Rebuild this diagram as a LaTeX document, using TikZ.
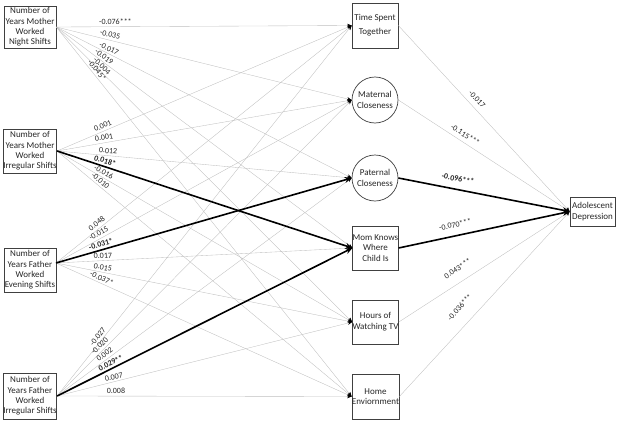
\documentclass[tikz,border=0pt]{standalone}
\usepackage{fontspec}
\setmainfont{Carlito}
\usetikzlibrary{arrows.meta}
\begin{document}
\begin{tikzpicture}[x=1pt,y=-1pt,
  box/.style={draw=black!75, line width=0.7pt, align=center, inner sep=0pt, text=black!85, font=\fontsize{9}{10.3}\selectfont},
  circ/.style={circle, draw=black!75, line width=0.7pt, align=center, inner sep=0pt, minimum size=46pt, text=black!85, font=\fontsize{9}{11.7}\selectfont},
  weak/.style={draw=black!25, line width=0.35pt, -{Stealth[black,length=4.5pt,width=3.5pt]}},
  strong/.style={draw=black, line width=1.6pt, -{Stealth[length=7pt,width=6pt]}},
  lab/.style={font=\fontsize{8}{9}\selectfont, sloped, inner sep=1pt, text=black!85},
  blab/.style={lab, font=\fontsize{8}{9}\selectfont\bfseries},
]
\useasboundingbox (0,0) rectangle (618,423);
% left nodes
\node[box, minimum width=52pt, minimum height=42pt] (a1) at (30,27) {Number of\\Years Mother\\Worked\\Night Shifts};
\node[box, minimum width=52pt, minimum height=44pt] (a2) at (30,151) {Number of\\Years Mother\\Worked\\Irregular Shifts};
\node[box, minimum width=52pt, minimum height=44pt] (a3) at (30,270) {Number of\\Years Father\\Worked\\Evening Shifts};
\node[box, minimum width=52pt, minimum height=46pt] (a4) at (30,396) {Number of\\Years Father\\Worked\\Irregular Shifts};
\coordinate (a3o) at (56,263);
% middle nodes
\node[box, minimum width=46pt, minimum height=45pt, font=\fontsize{9}{14}\selectfont] (m1) at (375,25.5) {Time Spent\\Together};
\node[circ] (m2) at (375,100) {Maternal\\Closeness};
\node[circ] (m3) at (375,178) {Paternal\\Closeness};
\node[box, minimum width=45pt, minimum height=44pt] (m4) at (375.5,248) {Mom Knows\\Where\\Child Is};
\node[box, minimum width=45pt, minimum height=44pt, font=\fontsize{9}{10.7}\selectfont] (m5) at (375.5,322) {Hours of\\Watching TV};
\node[box, minimum width=45pt, minimum height=45pt, font=\fontsize{9}{10.7}\selectfont] (m6) at (375.5,396.5) {Home\\Enviornment};
% right node
\node[box, minimum width=45pt, minimum height=29pt, font=\fontsize{9}{11}\selectfont] (dep) at (592.5,211.5) {Adolescent\\Depression};

% mother night shifts
\draw[weak] (a1.east) -- node[lab,pos=0.20,above=1pt]{-0.076***} (m1.west);
\draw[weak] (a1.east) -- node[lab,pos=0.178,above=1.5pt]{-0.035} (m2.west);
\draw[weak] (a1.east) -- node[lab,pos=0.171,above=1pt]{-0.017} (m3.west);
\draw[weak] (a1.east) -- node[lab,pos=0.152,above=1pt]{-0.019} (m4.west);
\draw[weak] (a1.east) -- node[lab,pos=0.143,above=1pt]{-0.004} (m5.west);
\draw[weak] (a1.east) -- node[lab,pos=0.125,above=1pt]{-0.045*} (m6.west);
% mother irregular shifts
\draw[weak] (a2.east) -- node[lab,pos=0.162,above=1.5pt]{0.001} (m1.west);
\draw[weak] (a2.east) -- node[lab,pos=0.162,above=1.5pt]{0.001} (m2.west);
\draw[weak] (a2.east) -- node[lab,pos=0.172,above=1pt]{0.012} (m3.west);
\draw[weak] (a2.east) -- node[lab,pos=0.150,above=1pt]{-0.016} (m5.west);
\draw[weak] (a2.east) -- node[lab,pos=0.137,above=1pt]{-0.010} (m6.west);
% father evening shifts
\draw[weak] (a3o) -- node[lab,pos=0.149,above=1.5pt]{0.048} (m1.west);
\draw[weak] (a3o) -- node[lab,pos=0.153,above=1.5pt]{-0.015} (m2.west);
\draw[weak] (a3o) -- node[lab,pos=0.159,above=1pt]{0.017} (m4.west);
\draw[weak] (a3o) -- node[lab,pos=0.155,above=1pt]{0.015} (m5.west);
\draw[weak] (a3o) -- node[lab,pos=0.148,above=1pt]{-0.037*} (m6.west);
% father irregular shifts
\draw[weak] (a4.east) -- node[lab,pos=0.152,above=1.5pt]{-0.027} (m1.west);
\draw[weak] (a4.east) -- node[lab,pos=0.157,above=1.5pt]{-0.020} (m2.west);
\draw[weak] (a4.east) -- node[lab,pos=0.172,above=1.5pt]{0.002} (m3.west);
\draw[weak] (a4.east) -- node[lab,pos=0.196,above=1pt]{0.007} (m5.west);
\draw[weak] (a4.east) -- node[lab,pos=0.200,above=1pt]{0.008} (m6.west);
% mediators to outcome
\draw[weak] (m1.east) -- node[lab,pos=0.426,above=4pt]{-0.017} (dep.west);
\draw[weak] (m2.east) -- node[lab,pos=0.368,above=3.3pt]{-0.115***} (dep.west);
\draw[weak] (m5.east) -- node[lab,pos=0.385,above=9pt]{0.043***} (dep.west);
\draw[weak] (m6.east) -- node[lab,pos=0.424,above=12pt]{-0.036***} (dep.west);
% significant paths
\draw[strong] (a2.east) -- node[blab,pos=0.157,above=1pt]{0.018*} (m4.west);
\draw[strong] (a3o) -- node[blab,pos=0.157,above=1pt]{-0.031*} (m3.west);
\draw[strong] (a4.east) -- node[blab,pos=0.19,above=1pt]{0.029**} (m4.west);
\draw[strong] (m3.east) -- node[blab,pos=0.336,above=6pt]{-0.096***} (dep.west);
\draw[strong] (m4.east) -- node[lab,pos=0.344,above=6.5pt]{-0.070***} (dep.west);
\end{tikzpicture}
\end{document}
